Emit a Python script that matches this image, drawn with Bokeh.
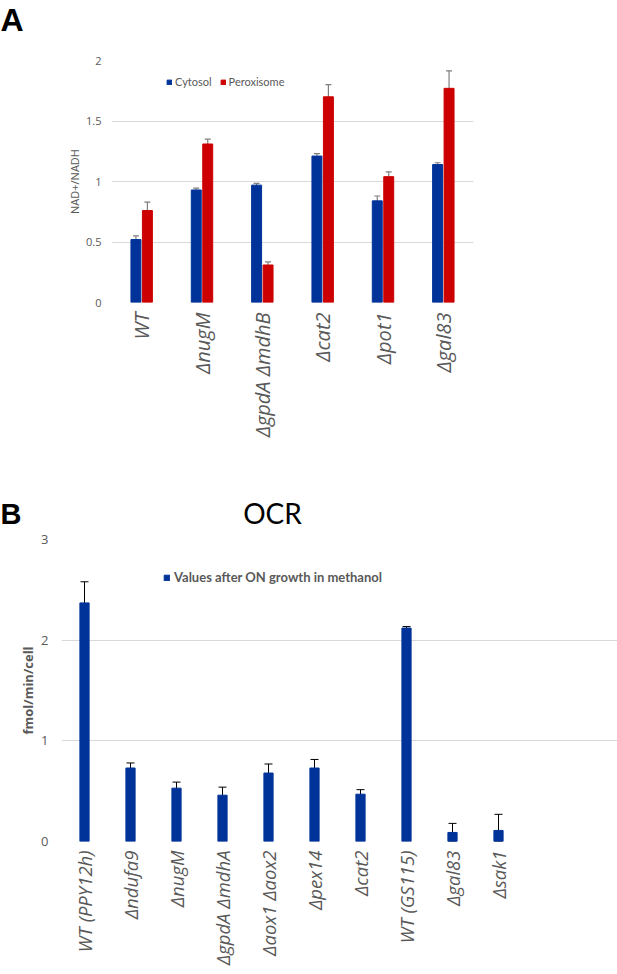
import numpy as np
from bokeh.plotting import figure
from bokeh.models import (ColumnDataSource, FactorRange, Range1d, Whisker, TeeHead,
                          Label, Legend, LegendItem, FixedTicker)
from bokeh.transform import dodge
from bokeh.embed import file_html
from bokeh.resources import INLINE

# ---------------- Panel A data ----------------
strains_a = ["WT", "ΔnugM", "ΔgpdA ΔmdhB", "Δcat2", "Δpot1", "Δgal83"]
cytosol = [0.52, 0.93, 0.97, 1.21, 0.84, 1.14]
cytosol_err = [0.03, 0.015, 0.015, 0.02, 0.04, 0.015]
peroxisome = [0.76, 1.31, 0.31, 1.70, 1.04, 1.77]
peroxisome_err = [0.07, 0.04, 0.025, 0.10, 0.04, 0.145]
yticks_a = [0, 0.5, 1, 1.5, 2]
yticklabels_a = ["0", "0.5", "1", "1.5", "2"]

# ---------------- Panel B data ----------------
strains_b = ["WT (PPY12h)", "Δndufa9", "ΔnugM", "ΔgpdA ΔmdhA", "Δaox1 Δaox2",
             "Δpex14", "Δcat2", "WT (GS115)", "Δgal83", "Δsak1"]
ocr = [2.37, 0.73, 0.53, 0.46, 0.68, 0.73, 0.47, 2.12, 0.09, 0.11]
ocr_err = [0.21, 0.05, 0.06, 0.08, 0.09, 0.085, 0.045, 0.015, 0.09, 0.16]
yticks_b = [0, 1, 2, 3]

BLUE = "#003399"
RED = "#cc0000"
GRAY = "#595959"
GRID = "#d9d9d9"
W = 617


def header(height):
    h = figure(width=W, height=height, x_range=Range1d(0, W), y_range=Range1d(0, height),
               output_backend="svg", toolbar_location=None,
               x_axis_location=None, y_axis_location=None,
               min_border_left=0, min_border_right=0, min_border_top=0, min_border_bottom=0)
    h.grid.visible = False
    h.outline_line_color = None
    return h


def style_yaxis(ax, size, standoff):
    ax.axis_line_color = None
    ax.major_tick_line_color = None
    ax.minor_tick_line_color = None
    ax.major_tick_out = 0
    ax.major_tick_in = 0
    ax.minor_tick_out = 0
    ax.major_label_standoff = standoff
    ax.major_label_text_font = "Open Sans"
    ax.major_label_text_font_size = size
    ax.major_label_text_color = GRAY
    ax.axis_label_text_color = GRAY


def style_xaxis(ax, size, standoff):
    ax.axis_line_color = None
    ax.major_tick_line_color = None
    ax.minor_tick_line_color = None
    ax.major_label_orientation = np.pi / 2
    ax.major_label_standoff = standoff
    ax.major_label_text_font = "Open Sans"
    ax.major_label_text_font_style = "italic"
    ax.major_label_text_font_size = size
    ax.major_label_text_color = GRAY


# ================= Header A =================
ha = header(40)
ha.add_layout(Label(x=0, y=21, text="A", text_font="Liberation Sans",
                    text_font_style="bold", text_font_size="32px", text_color="black",
                    text_align="left", text_baseline="middle"))

# ================= Figure A =================
cy = np.array(cytosol); cye = np.array(cytosol_err)
pe = np.array(peroxisome); pee = np.array(peroxisome_err)
src_a = ColumnDataSource(dict(
    strain=strains_a,
    cytosol=cytosol, cyto_hi=cy + cye, cyto_lo=cy - cye,
    perox=peroxisome, perox_hi=pe + pee, perox_lo=pe - pee,
))

pa = figure(x_range=FactorRange(factors=strains_a, range_padding=0),
            y_range=Range1d(0, 2), width=W, height=430,
            output_backend="svg", toolbar_location=None,
            min_border_left=111, min_border_right=144, min_border_top=20,
            min_border_bottom=168)
pa.outline_line_color = None
pa.xgrid.grid_line_color = None
pa.ygrid.grid_line_color = GRID
pa.ygrid.ticker = FixedTicker(ticks=yticks_a)
ya = pa.yaxis[0]
ya.ticker = FixedTicker(ticks=yticks_a)
ya.major_label_overrides = {t: s for t, s in zip(yticks_a, yticklabels_a)}
style_yaxis(ya, "11px", 10)
ya.axis_label = "NAD+/NADH"
ya.axis_label_standoff = 1
ya.axis_label_text_font = "Open Sans"
ya.axis_label_text_font_size = "11px"
ya.axis_label_text_font_style = "normal"
style_xaxis(pa.xaxis[0], "20px", 4)

r_cy = pa.vbar(x=dodge("strain", -0.095, range=pa.x_range), top="cytosol", width=0.165,
               source=src_a, fill_color=BLUE, line_color=BLUE)
r_pe = pa.vbar(x=dodge("strain", 0.095, range=pa.x_range), top="perox", width=0.165,
               source=src_a, fill_color=RED, line_color=RED)
for base, hi, lo in [(dodge("strain", -0.095, range=pa.x_range), "cyto_hi", "cyto_lo"),
                     (dodge("strain", 0.095, range=pa.x_range), "perox_hi", "perox_lo")]:
    pa.add_layout(Whisker(source=src_a, base=base, upper=hi, lower=lo,
                          line_color="#7f7f7f", line_width=1.2,
                          upper_head=TeeHead(size=6, line_color="#7f7f7f", line_width=1.2),
                          lower_head=TeeHead(size=6, line_color="#7f7f7f", line_width=1.2)))

leg_a = Legend(items=[LegendItem(label="Cytosol", renderers=[r_cy]),
                      LegendItem(label="Peroxisome", renderers=[r_pe])],
               orientation="horizontal", location=(55, 214),
               glyph_width=6, glyph_height=6, label_standoff=3, spacing=8,
               padding=0, margin=0, label_height=12,
               label_text_font="Lato", label_text_font_size="11px",
               label_text_color=GRAY, border_line_color=None, background_fill_alpha=0)
pa.add_layout(leg_a)

# ================= Header B =================
hb = header(59)
hb.add_layout(Label(x=0, y=16, text="B", text_font="Liberation Sans",
                    text_font_style="bold", text_font_size="29px", text_color="black",
                    text_align="left", text_baseline="middle"))
hb.add_layout(Label(x=272, y=17, text="OCR", text_font="Lato", text_font_size="28px",
                    text_color="black", text_align="center", text_baseline="middle"))

# ================= Figure B =================
oc = np.array(ocr); oce = np.array(ocr_err)
xpos_b = [i + 0.5 for i in range(len(strains_b))]
src_b = ColumnDataSource(dict(
    x=xpos_b, ocr=ocr, hi=oc + oce, lo=np.maximum(oc - oce, 0),
))
frame_w_b = W - 61
pb = figure(x_range=Range1d(0, frame_w_b / 46.0), y_range=Range1d(0, 3),
            width=W, height=444, output_backend="svg", toolbar_location=None,
            min_border_left=61, min_border_right=0, min_border_top=10,
            min_border_bottom=132)
pb.outline_line_color = None
pb.xgrid.grid_line_color = None
pb.ygrid.grid_line_color = GRID
pb.ygrid.ticker = FixedTicker(ticks=yticks_b)
yb = pb.yaxis[0]
yb.ticker = FixedTicker(ticks=yticks_b)
style_yaxis(yb, "13px", 13)
yb.axis_label = "fmol/min/cell"
yb.axis_label_standoff = 1
yb.axis_label_text_font = "Open Sans"
yb.axis_label_text_font_size = "13px"
yb.axis_label_text_font_style = "bold"
xb = pb.xaxis[0]
xb.ticker = FixedTicker(ticks=xpos_b)
xb.major_label_overrides = {x: s for x, s in zip(xpos_b, strains_b)}
style_xaxis(xb, "18.5px", 3)

r_b = pb.vbar(x="x", top="ocr", width=0.2, source=src_b,
              fill_color=BLUE, line_color=BLUE)
pb.add_layout(Whisker(source=src_b, base="x", upper="hi", lower="lo",
                      line_color="black", line_width=1,
                      upper_head=TeeHead(size=8, line_color="black", line_width=1),
                      lower_head=TeeHead(size=8, line_color="black", line_width=1)))

leg_b = Legend(items=[LegendItem(label="Values after ON growth in methanol", renderers=[r_b])],
               orientation="horizontal", location=(102, 256),
               glyph_width=7, glyph_height=7, label_standoff=4,
               padding=0, margin=0, label_height=12,
               label_text_font="Lato", label_text_font_size="13px",
               label_text_font_style="bold",
               label_text_color=GRAY, border_line_color=None, background_fill_alpha=0)
pb.add_layout(leg_b)

open("out.html", "w").write(file_html([ha, pa, hb, pb], INLINE))
